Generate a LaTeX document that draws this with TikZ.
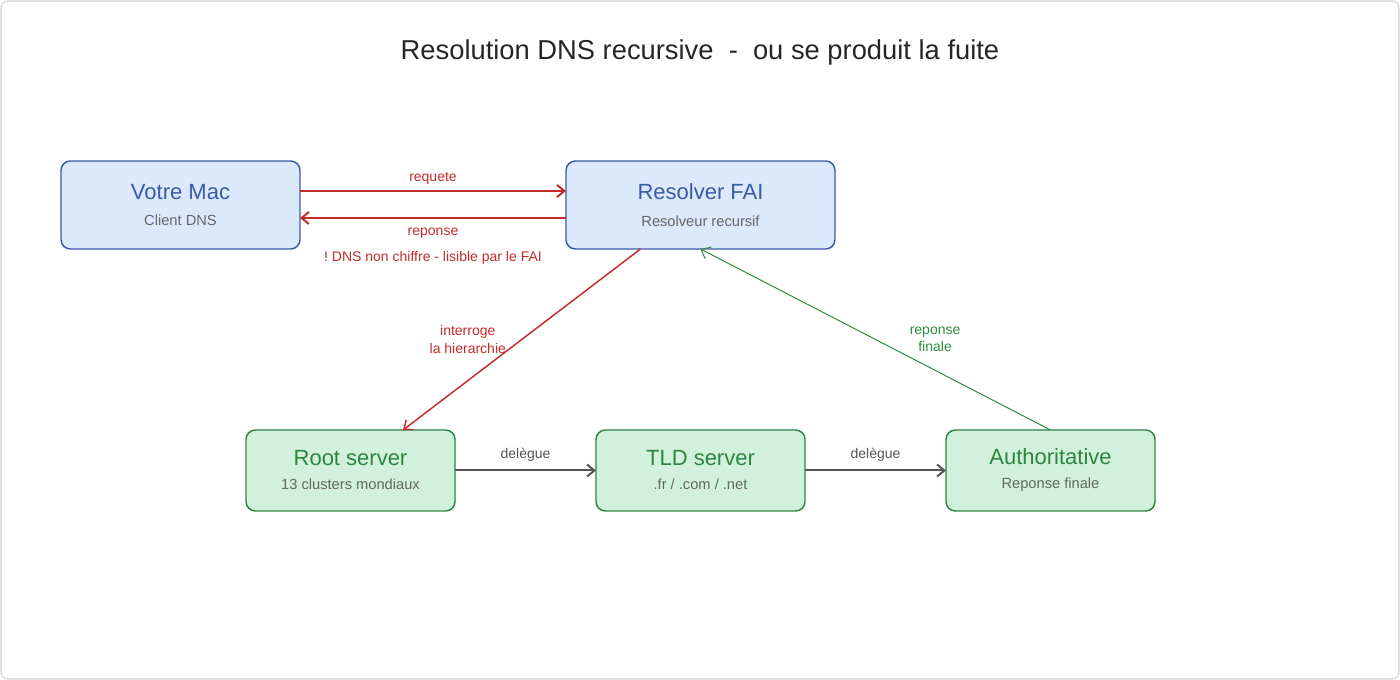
\documentclass[tikz,border=0pt]{standalone}
\usepackage{fontspec}
\setmainfont{Liberation Sans}
\usetikzlibrary{positioning,arrows.meta}
\definecolor{macfill}{HTML}{DCE8FB}
\definecolor{macline}{HTML}{3A5CA6}
\definecolor{srvfill}{HTML}{D1F1DC}
\definecolor{srvline}{HTML}{2E8540}
\definecolor{leakred}{HTML}{C42B2B}
\definecolor{okgreen}{HTML}{2E8B3F}
\definecolor{subgray}{HTML}{666666}
\definecolor{delgray}{HTML}{555555}
\newcommand{\subline}[1]{{\color{subgray}\fontsize{11}{13}\selectfont #1}}

\begin{document}
\begin{tikzpicture}[
    x=0.75pt, y=-0.75pt,
    clientbox/.style={rectangle, draw=macline, line width=1.1pt, fill=macfill, text=macline, rounded corners=7pt, align=center, font=\fontsize{16.5}{19}\selectfont, minimum height=66pt, inner sep=0pt, outer sep=0pt},
    serverbox/.style={rectangle, draw=srvline, line width=1.1pt, fill=srvfill, text=srvline, rounded corners=7pt, align=center, font=\fontsize{16.5}{19}\selectfont, minimum width=156.75pt, minimum height=60.75pt, inner sep=0pt, outer sep=0pt},
    leak/.style={draw=leakred, line width=1.5pt, -{Straight Barb[length=5.5pt, width=9pt]}},
    answer/.style={draw=okgreen, line width=0.75pt, -{Straight Barb[length=6pt, width=10pt]}},
    delegate/.style={draw=delgray, line width=1.5pt, -{Straight Barb[length=5.5pt, width=9pt]}},
    redlbl/.style={text=leakred, font=\fontsize{10.5}{13}\selectfont, align=center},
    greenlbl/.style={text=okgreen, font=\fontsize{10.5}{13}\selectfont, align=center},
    graylbl/.style={text=delgray, font=\fontsize{10.5}{13}\selectfont}
]
    \useasboundingbox (0,0) rectangle (1400,680);
    \draw[rounded corners=5pt, draw=black!18, line width=0.8pt] (1,1) rectangle (1399,679);

    % Nodes
    \node[text=black!85, font=\fontsize{20.5}{24}\selectfont] (title) at (700,52) {Resolution DNS recursive~~-~~ou se produit la fuite};
    \node[clientbox, minimum width=179.25pt] (mac) at (180.5,205) {Votre Mac\\[1pt]\subline{Client DNS}};
    \node[clientbox, minimum width=201.75pt, right=199.5pt of mac] (resolver) {Resolver FAI\\[1pt]\subline{Resolveur recursif}};
    \node[serverbox] (root) at (350.5,470.5) {Root server\\[-1pt]\subline{13 clusters mondiaux}};
    \node[serverbox, right=105.75pt of root] (tld) {TLD server\\[-1pt]\subline{.fr / .com / .net}};
    \node[serverbox, right=105.75pt of tld] (auth) {Authoritative\\[-1pt]\subline{Reponse finale}};

    % Arrows
    \draw[leak] ([yshift=10.5pt]mac.east) -- node[redlbl, above=0.5pt] (reqlbl) {requete} ([yshift=10.5pt]resolver.west);
    \draw[leak] ([yshift=-9.75pt]resolver.west) -- node[redlbl, below=3.5pt] (replbl) {reponse} ([yshift=-9.75pt]mac.east);
    \node[redlbl, below=2pt of replbl] (warn) {!\ DNS non chiffre - lisible par le FAI};
    \draw[leak, line width=1.1pt] ([xshift=-45pt]resolver.south) -- node[redlbl, left=8pt] (asklbl) {interroge\\la hierarchie} ([xshift=39.4pt]root.north);
    \draw[delegate] (root) -- node[graylbl, above=3pt] (del1) {delègue} (tld);
    \draw[delegate] (tld) -- node[graylbl, above=3pt] (del2) {delègue} (auth);

    % Final answer back up
    \draw[answer] (auth.north) -- node[greenlbl, right=22pt] (anslbl) {reponse\\finale} (resolver.south);
\end{tikzpicture}
\end{document}
